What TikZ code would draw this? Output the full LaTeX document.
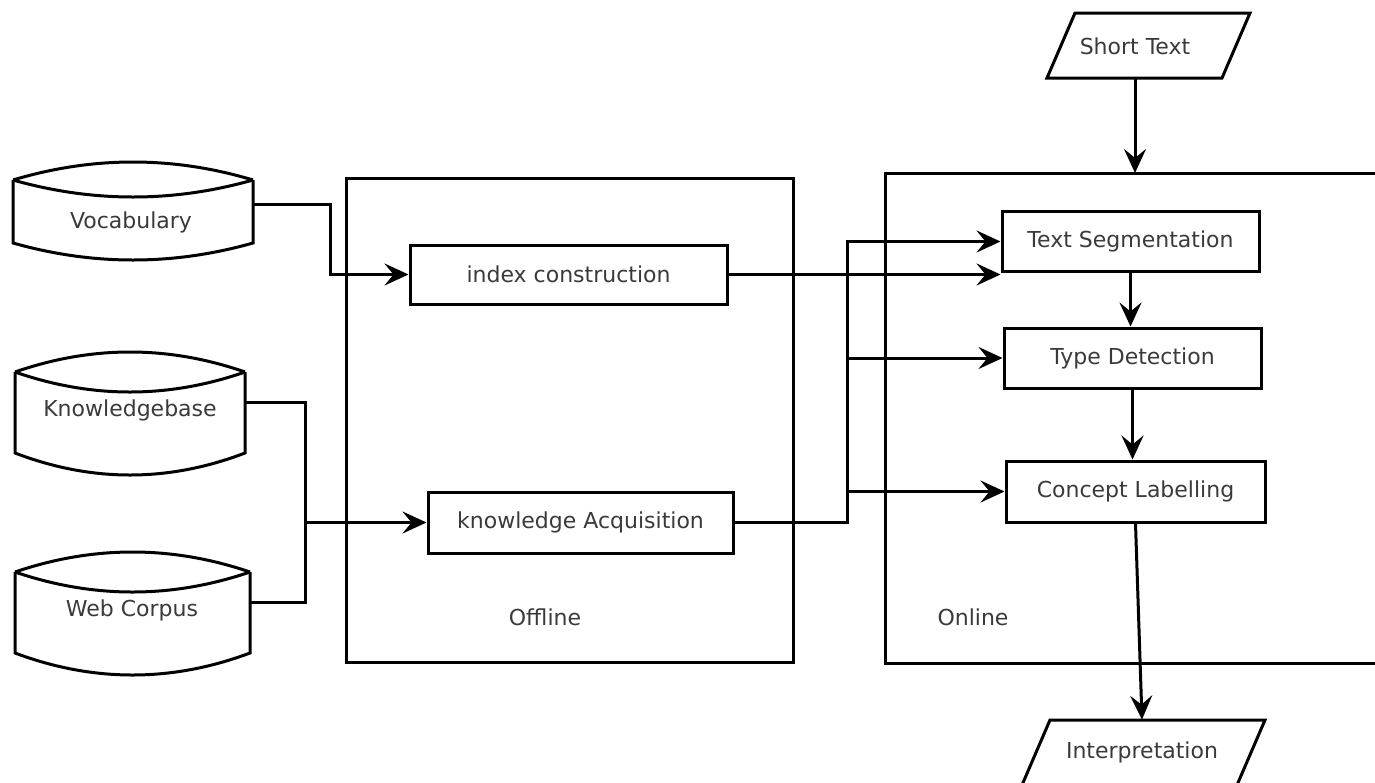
\documentclass[tikz,border=0pt]{standalone}
\usepackage{fontspec}
\setmainfont{DejaVu Sans}
\usetikzlibrary{arrows.meta,calc}
\definecolor{txtc}{HTML}{3A3A3A}
\newcommand\cylpath[7]{% xl xr ytop yc ylens yb ylow
  \pgfmathsetmacro\cA{#1+0.3333*(#2-#1)}%
  \pgfmathsetmacro\cB{#2-0.3333*(#2-#1)}%
  \pgfmathsetmacro\yT{#4-1.3333*(#4-#3)}%
  \pgfmathsetmacro\yL{#4+1.3333*(#5-#4)}%
  \pgfmathsetmacro\yB{#6+1.3333*(#7-#6)}%
  \draw[ln] (#1,#4) .. controls (\cA,\yT) and (\cB,\yT) .. (#2,#4);
  \draw[ln] (#1,#4) .. controls (\cA,\yL) and (\cB,\yL) .. (#2,#4);
  \draw[ln] (#1,#4) -- (#1,#6) .. controls (\cA,\yB) and (\cB,\yB) .. (#2,#6) -- (#2,#4);}
\begin{document}
\begin{tikzpicture}[x=0.5pt,y=-0.5pt,
  ln/.style={line width=1.5pt,black,line join=miter},
  arr/.style={ln,-{Stealth[length=12pt,width=11pt,inset=4.5pt]}},
  txt/.style={font=\fontsize{11}{13}\selectfont,text=txtc},
  procbox/.style={txt,draw,line width=1.5pt,rectangle,inner sep=0pt},
  hid/.style={txt,inner sep=0pt,rectangle}]
\useasboundingbox (0,0) rectangle (1375,782);
\clip (0,0) rectangle (1375,782);

% cylinders (bodies as hidden nodes)
\node[hid,minimum width=120pt,minimum height=31.5pt] (voc) at (133,211.5) {};
\node[hid] (voct) at (131,222) {Vocabulary};
\cylpath{13}{253}{162}{180}{197}{243}{260}

\node[hid,minimum width=115pt,minimum height=40.5pt] (kb) at (130,412.5) {};
\node[hid] (kbt) at (130,410) {Knowledgebase};
\cylpath{15}{245}{352}{372}{392}{453}{475}

\node[hid,minimum width=117.5pt,minimum height=40.5pt] (wc) at (132.5,612.5) {};
\node[hid] (wct) at (132,610) {Web Corpus};
\cylpath{15}{250}{552}{572}{592}{653}{675}

% offline / online frames
\node[draw,line width=1.5pt,rectangle,inner sep=0pt,minimum width=223.5pt,minimum height=242pt] (off) at (569.5,420) {};
\node[txt] (offt) at (545,617) {Offline};
\draw[ln] (1390,173) -- (885,173) -- (885,663) -- (1390,663);
\node[hid,minimum width=1pt,minimum height=245pt] (on) at (885,418) {};
\node[txt] (ont) at (973,617) {Online};

% process boxes
\node[procbox,minimum width=158.5pt,minimum height=29.5pt] (idx) at (568.5,274.5) {index construction};
\node[procbox,minimum width=152.5pt,minimum height=30.5pt] (kacq) at (580.5,522.5) {knowledge Acquisition};
\node[procbox,minimum width=128.5pt,minimum height=30pt] (tseg) at (1130.5,241.5) {Text Segmentation};
\node[procbox,minimum width=128.5pt,minimum height=30pt] (tdet) at (1132.5,358) {Type Detection};
\node[procbox,minimum width=129.5pt,minimum height=30.5pt] (clab) at (1135.5,491.5) {Concept Labelling};

% parallelograms
\node[hid,minimum width=1pt,minimum height=32.5pt] (sh) at (1135,45.5) {};
\node[hid] (sht) at (1135,46) {Short Text};
\draw[ln] (1047,78) -- (1075,13) -- (1250,13) -- (1222,78) -- cycle;
\node[hid,minimum width=1pt,minimum height=32.5pt] (interp) at (1142,752.5) {};
\node[hid] (interpt) at (1142,752) {Interpretation};
\draw[ln] (1022,785) -- (1050,720) -- (1265,720) -- (1237,785);

% connectors
\coordinate (v1) at (330,204);
\draw[arr] (voc.east |- v1) -- (v1) -- (v1 |- idx.west) -- (idx.west);
\coordinate (j) at (305,522.5);
\coordinate (k1) at (305,402);
\coordinate (w1) at (305,602);
\draw[ln] (kb.east |- k1) -- (k1) -- (j);
\draw[ln] (wc.east |- w1) -- (w1) -- (j);
\draw[arr] (j) -- (kacq.west);
\draw[arr] (idx.east) -- (idx.east -| tseg.west);
\coordinate (b0) at (847,522.5);
\draw[arr] (kacq.east) -- (b0) -- (b0 |- tseg.west) -- (tseg.west);
\draw[arr] (b0 |- tdet.west) -- (tdet.west);
\draw[arr] (b0 |- clab.west) -- (clab.west);
\draw[arr] (sh.south) -- (sh.south |- 0,173);
\draw[arr] (tseg.south) -- (tseg.south |- tdet.north);
\draw[arr] (tdet.south) -- (tdet.south |- clab.north);
\draw[arr] (clab.south) -- (interp.north);
\end{tikzpicture}
\end{document}
